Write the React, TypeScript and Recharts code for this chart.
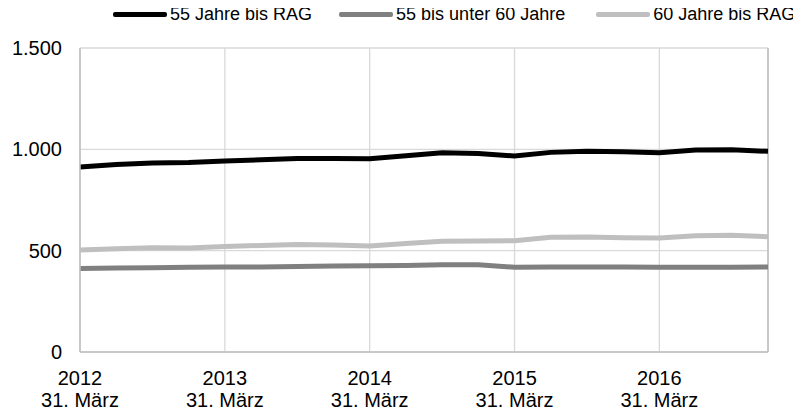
import React from "react";
import {
  LineChart,
  Line,
  XAxis,
  YAxis,
  CartesianGrid,
  ReferenceLine,
} from "recharts";

const quarters = [
  "2012-03-31", "2012-06-30", "2012-09-30", "2012-12-31",
  "2013-03-31", "2013-06-30", "2013-09-30", "2013-12-31",
  "2014-03-31", "2014-06-30", "2014-09-30", "2014-12-31",
  "2015-03-31", "2015-06-30", "2015-09-30", "2015-12-31",
  "2016-03-31", "2016-06-30", "2016-09-30", "2016-12-31",
];

const total55 = [
  913, 925, 932, 935, 943, 948, 955, 955, 953, 968,
  983, 980, 967, 985, 990, 988, 983, 997, 998, 990,
];
const age55to60 = [
  412, 414, 416, 418, 419, 420, 422, 424, 426, 427,
  430, 430, 418, 419, 420, 420, 418, 418, 418, 420,
];
const age60 = [
  503, 510, 515, 513, 520, 526, 531, 528, 523, 535,
  547, 548, 549, 566, 568, 564, 562, 574, 576, 569,
];

const seriesNames = ["55 Jahre bis RAG", "55 bis unter 60 Jahre", "60 Jahre bis RAG"];
const seriesColors = ["#000000", "#808080", "#bfbfbf"];
const yTicks = [0, 500, 1000, 1500];
const tickDayLabel = "31. März";

const data = quarters.map((q, i) => ({
  q,
  a: total55[i],
  b: age55to60[i],
  c: age60[i],
}));

const FONT = '"Liberation Sans", Arial, sans-serif';

const fmt = (v: number) => v.toLocaleString("de-DE");

const XTick = (props: any) => {
  const { x, y, payload } = props;
  const year = String(payload.value).slice(0, 4);
  return (
    <text x={x} y={y} textAnchor="middle" fill="#000" fontSize={20} fontFamily={FONT}>
      <tspan x={x} dy={25}>{year}</tspan>
      <tspan x={x} dy={22}>{tickDayLabel}</tspan>
    </text>
  );
};

const LegendBox = () => (
  <div
    style={{
      position: "absolute",
      top: -4,
      left: 105,
      display: "flex",
      alignItems: "center",
      whiteSpace: "nowrap",
      fontFamily: FONT,
      fontSize: 18,
      lineHeight: "20px",
      color: "#000",
    }}
  >
    {seriesNames.map((n, i) => (
      <div key={n} style={{ display: "flex", alignItems: "center", marginRight: i === 0 ? 27 : 31 }}>
        <div style={{ width: 54, height: 5, borderRadius: 2, background: seriesColors[i] }} />
        <span style={{ marginLeft: 3 }}>{n}</span>
      </div>
    ))}
  </div>
);

export default function App() {
  return (
    <div style={{ position: "relative", width: 785, height: 404 }}>
      <LineChart
        width={785}
        height={404}
        data={data}
        margin={{ top: 40, right: 25, bottom: 0, left: 0 }}
      >
        <CartesianGrid stroke="#d9d9d9" strokeWidth={1.3} />
        <XAxis
          dataKey="q"
          interval={3}
          height={60}
          tick={<XTick />}
          tickLine={false}
          axisLine={{ stroke: "#bfbfbf", strokeWidth: 1.5 }}
          padding={{ left: 0, right: 0 }}
        />
        <YAxis
          width={72}
          domain={[0, 1500]}
          ticks={yTicks}
          tickFormatter={fmt}
          tickLine={false}
          axisLine={{ stroke: "#bfbfbf", strokeWidth: 1.5 }}
          tickSize={6}
          tickMargin={12}
          tick={{ fill: "#000", fontSize: 20, fontFamily: FONT }}
        />
        <ReferenceLine x={quarters[quarters.length - 1]} stroke="#bfbfbf" strokeWidth={1.5} />
        <Line type="linear" dataKey="a" name={seriesNames[0]} stroke={seriesColors[0]} strokeWidth={5} dot={false} isAnimationActive={false} />
        <Line type="linear" dataKey="b" name={seriesNames[1]} stroke={seriesColors[1]} strokeWidth={5} dot={false} isAnimationActive={false} />
        <Line type="linear" dataKey="c" name={seriesNames[2]} stroke={seriesColors[2]} strokeWidth={5} dot={false} isAnimationActive={false} />
      </LineChart>
      <LegendBox />
    </div>
  );
}
